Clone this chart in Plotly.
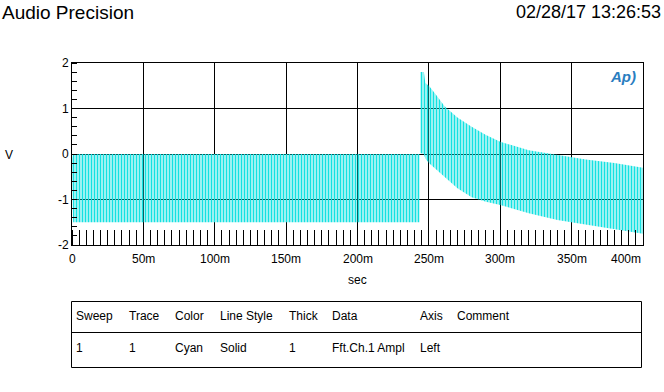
import plotly.graph_objects as go

# ---------------- data ----------------
# segment 1: steady waveform envelope (time in s, amplitude in V)
seg1_t = [0.0, 0.0008, 0.05, 0.10, 0.15, 0.20, 0.2435]
seg1_top = [-0.10, 0.00, 0.00, 0.00, 0.00, 0.00, 0.00]
seg1_bot = [-0.45, -1.50, -1.50, -1.50, -1.50, -1.50, -1.50]

# segment 2: decaying waveform envelope after the step
seg2_t = [0.2440, 0.2465, 0.2475, 0.250, 0.255, 0.261, 0.270, 0.280, 0.290,
          0.300, 0.320, 0.340, 0.360, 0.380, 0.400]
seg2_top = [1.80, 1.80, 1.56, 1.50, 1.30, 1.05, 0.80, 0.60, 0.42,
            0.27, 0.08, -0.02, -0.12, -0.20, -0.30]
seg2_bot = [0.02, 0.00, -0.10, -0.20, -0.35, -0.50, -0.75, -0.95, -1.05,
            -1.12, -1.30, -1.45, -1.55, -1.65, -1.75]

x_tick_vals = [0, 0.05, 0.10, 0.15, 0.20, 0.25, 0.30, 0.35, 0.40]
x_tick_text = ["0", "50m", "100m", "150m", "200m", "250m", "300m", "350m", "400m"]
y_tick_vals = [-2, -1, 0, 1, 2]
y_tick_text = ["-2", "-1", "0", "1", "2"]

table_cols = ["Sweep", "Trace", "Color", "Line Style", "Thick", "Data", "Axis", "Comment"]
table_row = ["1", "1", "Cyan", "Solid", "1", "Fft.Ch.1 Ampl", "Left", ""]

title_left = "Audio Precision"
title_right = "02/28/17 13:26:53"

# ---------------- layout helpers ----------------
W, H = 664, 392
L, R, T, B = 72, 643, 63, 245


def px_x(px):
    return (px - L) / (R - L)


def px_y(py):
    return (B - py) / (B - T)


CYAN = "rgb(20,225,225)"
FONT = "Arial, Liberation Sans, sans-serif"

fig = go.Figure()


def band(t, top, bot, size):
    xs = list(t) + list(reversed(t))
    ys = list(top) + list(reversed(bot))
    fig.add_trace(go.Scatter(
        x=xs, y=ys, mode="lines", fill="toself",
        line=dict(width=0, color=CYAN),
        fillcolor="rgba(0,0,0,0)",
        fillpattern=dict(shape="|", size=size, solidity=0.62, fillmode="replace",
                         fgcolor=CYAN, bgcolor="rgba(255,255,255,0)"),
        hoverinfo="skip", showlegend=False))


band(seg1_t, seg1_top, seg1_bot, 3)
band(seg2_t, seg2_top, seg2_bot, 3)

fig.update_xaxes(
    range=[0, 0.4], tickvals=x_tick_vals, showticklabels=False,
    showgrid=True, gridcolor="black", gridwidth=1, zeroline=False,
    showline=True, linecolor="black", linewidth=1, mirror=True,
    ticks="", minor=dict(dtick=0.005, tick0=0, ticks="inside", ticklen=15,
                         tickcolor="black", tickwidth=1, showgrid=False),
)
fig.update_yaxes(
    range=[-2, 2], tickvals=y_tick_vals, ticktext=y_tick_text,
    showgrid=True, gridcolor="black", gridwidth=1, zeroline=False,
    showline=True, linecolor="black", linewidth=1, mirror=True,
    ticks="", tickfont=dict(family=FONT, size=12, color="black"),
    minor=dict(dtick=0.2, tick0=0, ticks="inside", ticklen=5,
               tickcolor="black", tickwidth=1, showgrid=False),
)

ann = []
for v, txt in zip(x_tick_vals, x_tick_text):
    ann.append(dict(x=v, y=px_y(259), xref="x", yref="paper", text=txt,
                    showarrow=False, xanchor="right" if v == x_tick_vals[-1] else "center",
                    yanchor="middle", font=dict(family=FONT, size=12, color="black")))

ann.append(dict(x=px_x(0), y=px_y(12), xref="paper", yref="paper", text=title_left,
                showarrow=False, xanchor="left", yanchor="middle",
                font=dict(family=FONT, size=19, color="black")))
ann.append(dict(x=px_x(663), y=px_y(12), xref="paper", yref="paper", text=title_right,
                showarrow=False, xanchor="right", yanchor="middle",
                font=dict(family=FONT, size=18, color="black")))
ann.append(dict(x=px_x(9), y=px_y(155), xref="paper", yref="paper", text="V",
                showarrow=False, xanchor="center", yanchor="middle",
                font=dict(family=FONT, size=12, color="black")))
ann.append(dict(x=px_x(357), y=px_y(280), xref="paper", yref="paper", text="sec",
                showarrow=False, xanchor="center", yanchor="middle",
                font=dict(family=FONT, size=12, color="black")))
ann.append(dict(x=px_x(623), y=px_y(76), xref="paper", yref="paper",
                text="<b><i>Ap)</i></b>", showarrow=False, xanchor="center",
                yanchor="middle", font=dict(family=FONT, size=15, color="#2a7dbf")))

# table
col_px = [74, 127, 173, 218, 287, 330, 418, 455]
for cx, h, r in zip(col_px, table_cols, table_row):
    ann.append(dict(x=px_x(cx), y=px_y(316), xref="paper", yref="paper", text=h,
                    showarrow=False, xanchor="left", yanchor="middle",
                    font=dict(family=FONT, size=12, color="black")))
    if r:
        ann.append(dict(x=px_x(cx), y=px_y(348), xref="paper", yref="paper", text=r,
                        showarrow=False, xanchor="left", yanchor="middle",
                        font=dict(family=FONT, size=12, color="black")))

shapes = [
    dict(type="rect", xref="paper", yref="paper", x0=px_x(71.5), x1=px_x(641.5),
         y0=px_y(301.5), y1=px_y(367.5), line=dict(color="black", width=1)),
    dict(type="line", xref="paper", yref="paper", x0=px_x(71.5), x1=px_x(641.5),
         y0=px_y(332.5), y1=px_y(332.5), line=dict(color="black", width=1)),
]

fig.update_layout(
    width=W, height=H, autosize=False,
    margin=dict(l=L, r=W - R, t=T, b=H - B, pad=0),
    paper_bgcolor="white", plot_bgcolor="white",
    annotations=ann, shapes=shapes, showlegend=False,
    font=dict(family=FONT, size=12, color="black"),
)

fig.write_html("out.html")
